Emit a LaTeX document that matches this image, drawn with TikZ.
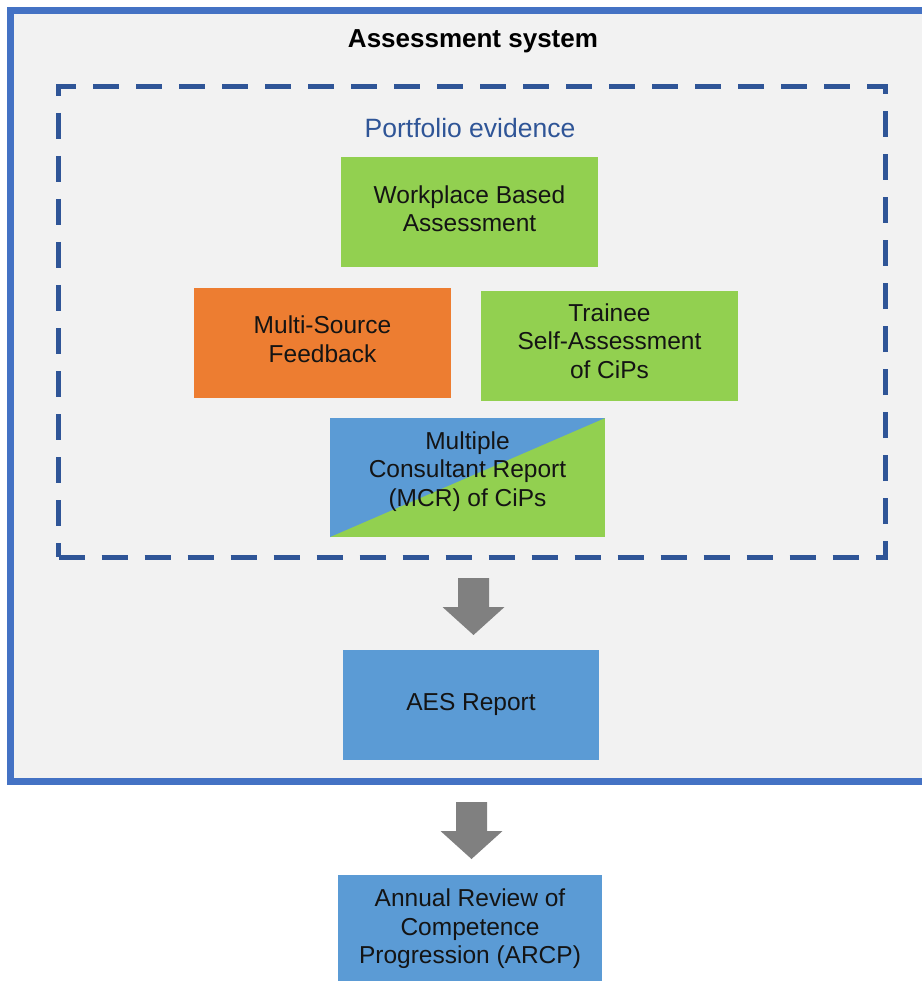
\documentclass[tikz,border=0pt]{standalone}
\usepackage{fontspec}
\setmainfont{Liberation Sans}
\definecolor{frameblue}{HTML}{4472C4}
\definecolor{panel}{HTML}{F2F2F2}
\definecolor{dashblue}{HTML}{2F5597}
\definecolor{boxgreen}{HTML}{92D050}
\definecolor{boxorange}{HTML}{ED7D31}
\definecolor{boxblue}{HTML}{5B9BD5}
\definecolor{arrowgray}{HTML}{808080}
\definecolor{txt}{HTML}{141414}
\begin{document}
\begin{tikzpicture}[x=1pt,y=-1pt,
  card/.style={rectangle, inner sep=0pt, outer sep=0pt},
  cardtext/.style={inner sep=0pt, align=center, text=txt,
    font=\fontsize{24.5}{28.5}\selectfont},
  greencard/.style={card, fill=boxgreen},
  orangecard/.style={card, fill=boxorange},
  bluecard/.style={card, fill=boxblue},
  blockarrow/.pic={\fill[arrowgray] (-15.5,0) -- (15.5,0) -- (15.5,29) -- (31,29)
     -- (0,57) -- (-31,29) -- (-15.5,29) -- cycle;}
]
\useasboundingbox (0,0) rectangle (921,981);
\fill[white] (0,0) rectangle (921,981);
% outer system frame
\node (system) [rectangle, draw=frameblue, line width=7pt, fill=panel,
  minimum width=924.5pt, minimum height=770.5pt, inner sep=0pt] at (472.75,395.75) {};
\node (title) [font=\fontsize{26}{30}\selectfont\bfseries, text=black] at (473,41) {Assessment system};
% dashed portfolio frame
\node (portfolio) [rectangle, draw=dashblue, line width=5pt, dash pattern=on 26pt off 17pt,
  minimum width=827pt, minimum height=470pt, inner sep=0pt] at (472,322) {};
\node (ptitle) [font=\fontsize{26.5}{30}\selectfont, text=dashblue] at (470,128) {Portfolio evidence};
% evidence cards
\node (wba) [greencard, minimum width=257pt, minimum height=110pt] at (469.5,212) {};
\node (wba-text) [cardtext] at ([yshift=3.5pt]wba.center) {Workplace Based\\Assessment};
\node (msf) [orangecard, minimum width=257pt, minimum height=110pt] at (322.5,343) {};
\node (msf-text) [cardtext] at ([yshift=4pt]msf.center) {Multi-Source\\Feedback};
\node (tsa) [greencard, minimum width=257pt, minimum height=110pt] at (609.5,346) {};
\node (tsa-text) [cardtext] at ([yshift=5pt]tsa.center) {Trainee\\Self-Assessment\\of CiPs};
\node (mcr) [card, fill=boxgreen, minimum width=275pt, minimum height=119pt,
  path picture={\fill[boxblue] (path picture bounding box.north west)
     -- (path picture bounding box.north east)
     -- (path picture bounding box.south west) -- cycle;}] at (467.5,477.5) {};
\node (mcr-text) [cardtext] at ([yshift=6pt]mcr.center) {Multiple\\Consultant Report\\(MCR) of CiPs};
% arrow to AES
\coordinate (a1) at (473.5,578);
\pic at (a1) {blockarrow};
\node (aes) [bluecard, minimum width=256pt, minimum height=110pt] at (471,705) {};
\node (aes-text) [cardtext] at ([yshift=1pt]aes.center) {AES Report};
% arrow to ARCP
\coordinate (a2) at (471.5,802);
\pic at (a2) {blockarrow};
\node (arcp) [bluecard, minimum width=264pt, minimum height=108pt] at (470,929) {};
\node (arcp-text) [cardtext] at (arcp.center) {Annual Review of\\Competence\\Progression (ARCP)};
\end{tikzpicture}
\end{document}
